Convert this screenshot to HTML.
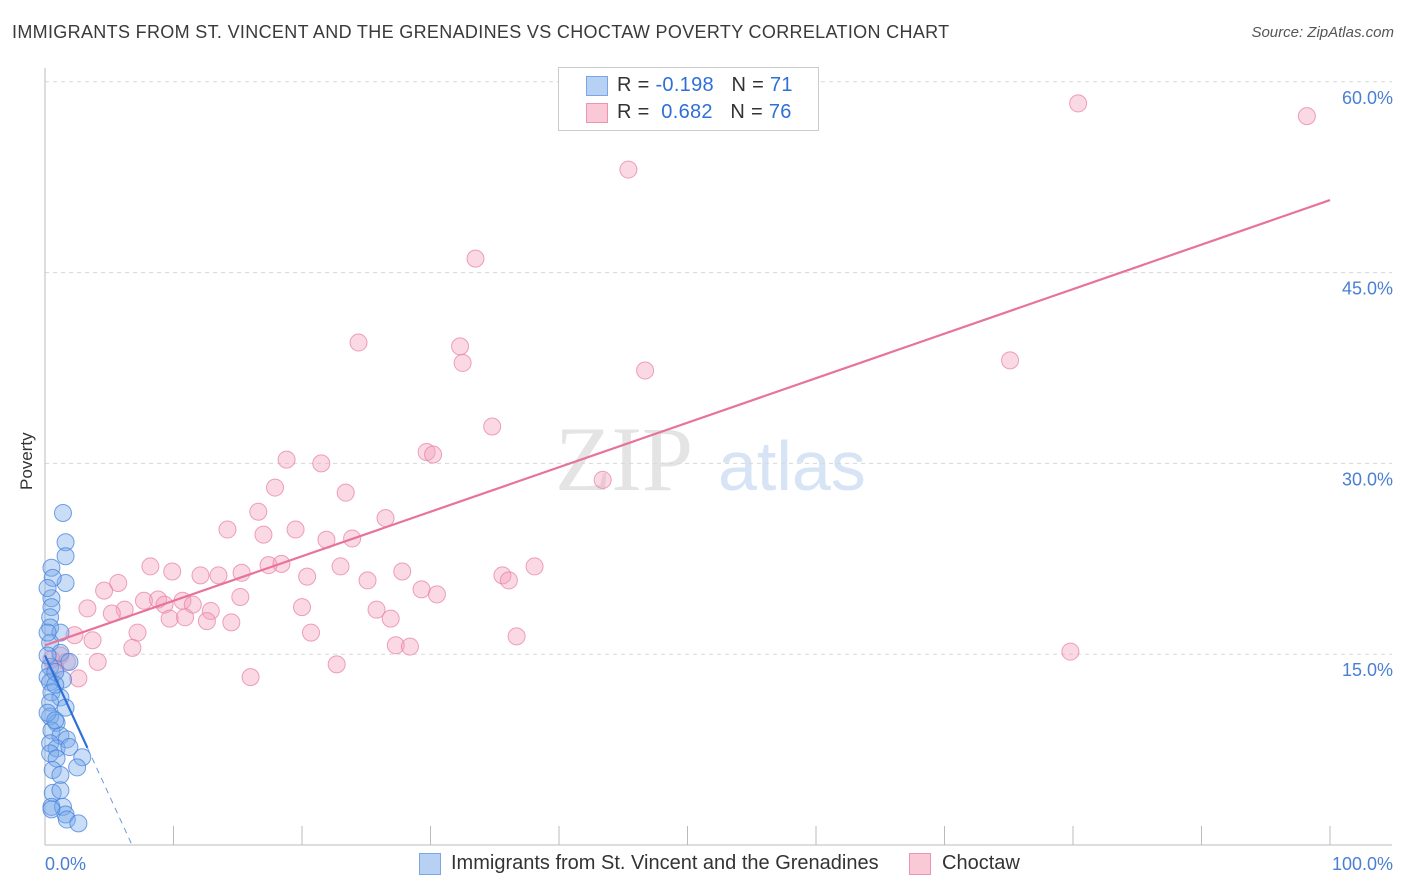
<!DOCTYPE html>
<html><head><meta charset="utf-8"><style>
body{margin:0;background:#fff;font-family:"Liberation Sans",sans-serif;}
#wrap{position:relative;width:1406px;height:892px;overflow:hidden;}
.t{position:absolute;white-space:nowrap;}
</style></head><body>
<div id="wrap">
<div class="t" style="left:12px;top:22px;font-size:18px;letter-spacing:0.33px;color:#3a3a3a;">IMMIGRANTS FROM ST. VINCENT AND THE GRENADINES VS CHOCTAW POVERTY CORRELATION CHART</div>
<div class="t" style="right:12px;top:24px;font-size:15px;color:#555;font-style:italic;">Source: ZipAtlas.com</div>
<div class="t" style="font-size:17px;color:#333;transform:rotate(-90deg);transform-origin:left top;top:490px;left:17px;">Poverty</div>
<svg id="svg" width="1406" height="892" style="position:absolute;left:0;top:0;"></svg>
</div>
<script>
const pinkX=[80.4,98.2,45.4,33.5,24.4,32.3,32.5,46.7,75.1,34.8,29.7,30.2,18.8,21.5,43.4,17.9,23.4,16.6,26.5,14.2,19.5,17.0,21.9,23.9,8.2,9.9,12.1,13.5,15.3,17.4,18.4,23.0,27.8,35.6,36.1,38.1,20.4,25.1,29.3,30.5,4.6,5.7,15.2,7.7,8.8,10.7,3.3,6.2,9.3,11.5,12.9,20.0,25.8,5.2,9.7,10.9,12.6,14.5,26.9,7.2,20.7,36.7,3.7,2.3,6.8,27.3,28.4,79.8,4.1,22.7,16.0,2.6,1.2,1.7,0.8,0.5];
const pinkY=[58.3,57.3,53.1,46.1,39.5,39.2,37.9,37.3,38.1,32.9,30.9,30.7,30.3,30.0,28.7,28.1,27.7,26.2,25.7,24.8,24.8,24.4,24.0,24.1,21.9,21.5,21.2,21.2,21.4,22.0,22.1,21.9,21.5,21.2,20.8,21.9,21.1,20.8,20.1,19.7,20.0,20.6,19.5,19.2,19.3,19.2,18.6,18.5,18.9,18.9,18.4,18.7,18.5,18.2,17.8,17.9,17.6,17.5,17.8,16.7,16.7,16.4,16.1,16.5,15.5,15.7,15.6,15.2,14.4,14.2,13.2,13.1,14.9,14.4,13.9,14.6];
const blueX=[1.4,1.6,1.6,1.6,0.5,0.6,0.5,0.5,0.4,0.4,1.2,0.4,1.2,1.9,0.4,0.2,0.4,1.4,0.5,1.2,0.4,1.6,0.4,0.9,0.5,1.2,1.7,0.4,0.9,1.9,0.4,0.9,2.9,2.5,0.6,1.2,0.6,1.2,0.5,1.4,1.6,1.7,2.6,0.5,0.2,0.2,0.2,0.8,0.8,0.2,0.8];
const blueY=[26.1,23.8,22.7,20.6,21.8,21.0,19.4,18.7,17.9,17.1,16.7,15.9,15.1,14.4,14.0,13.2,12.8,13.0,12.0,11.6,11.2,10.8,10.1,9.6,9.0,8.6,8.3,8.0,7.6,7.7,7.2,6.8,6.9,6.1,5.9,5.5,4.1,4.3,3.0,3.0,2.4,2.0,1.7,2.8,20.2,16.7,14.9,13.6,12.6,10.4,9.8];
const yTicks=[15,30,45,60];
const pinkTrend=[15.7,50.7];
const blueTrend=[14.9,-2.2];
const X0=45,X1=1330,Y0=845,YS=12.72;
const sx=v=>X0+(X1-X0)*v/100, sy=v=>Y0-v*YS;
const svg=document.getElementById('svg');
const NS='http://www.w3.org/2000/svg';
function mk(tag,at){const e=document.createElementNS(NS,tag);for(const k in at)e.setAttribute(k,at[k]);svg.appendChild(e);return e;}
let w=mk('text',{x:555,y:490,'font-size':92,fill:'#e4e4e4','font-family':'Liberation Serif,serif'});w.textContent='ZIP';


w=mk('text',{x:718,y:490,'font-size':70,fill:'#d6e4f5','font-family':'Liberation Sans,sans-serif'});w.textContent='atlas';


yTicks.forEach(v=>{
 let g=mk('line',{x1:X0,x2:1392,y1:sy(v),y2:sy(v),stroke:'#d8d8d8','stroke-dasharray':'4 4'});
 
 
 let t=mk('text',{x:1393,y:sy(v)+22,'text-anchor':'end','font-size':18,fill:'#4a7fd4','font-family':'Liberation Sans,sans-serif'});t.textContent=v.toFixed(1)+'%';
 
 
});
let a=mk('line',{x1:X0,x2:X0,y1:68,y2:Y0,stroke:'#bbb'});


a=mk('line',{x1:X0,x2:1392,y1:Y0,y2:Y0,stroke:'#bbb'});


for(let i=0;i<=10;i++){let tk=mk('line',{x1:sx(i*10),x2:sx(i*10),y1:Y0,y2:826,stroke:'#bbb'});
 
 }
[['0.0%',45,'start'],['100.0%',1393,'end']].forEach(([s,x,an])=>{let t=mk('text',{x:x,y:870,'text-anchor':an,'font-size':18,fill:'#4a7fd4','font-family':'Liberation Sans,sans-serif'});t.textContent=s;
 
 });
pinkX.forEach((x,i)=>{let c=mk('circle',{cx:sx(x),cy:sy(pinkY[i]),r:8.5,fill:'rgba(244,160,188,0.4)',stroke:'rgba(232,130,165,0.75)','stroke-width':1});
 
 });
blueX.forEach((x,i)=>{let c=mk('circle',{cx:sx(x),cy:sy(blueY[i]),r:8.5,fill:'rgba(120,170,235,0.4)',stroke:'rgba(70,130,220,0.75)','stroke-width':1});
 
 });
let l=mk('line',{x1:sx(0),y1:sy(pinkTrend[0]),x2:sx(100),y2:sy(pinkTrend[1]),stroke:'#e8739a','stroke-width':2.2});


const bEnd=-blueTrend[0]/blueTrend[1];
l=mk('line',{x1:sx(0),y1:sy(blueTrend[0]),x2:sx(3.3),y2:sy(blueTrend[0]+blueTrend[1]*3.3),stroke:'#2f6fd6','stroke-width':2.2});


l=mk('line',{x1:sx(3.3),y1:sy(blueTrend[0]+blueTrend[1]*3.3),x2:sx(bEnd),y2:sy(0),stroke:'#6c9ae0','stroke-width':1,'stroke-dasharray':'6 5'});


</script>
<div class="t" style="left:558px;top:67px;width:259px;height:62px;border:1px solid #ccc;background:#fff;">
 <div class="t" style="left:27px;top:8px;width:20px;height:18px;background:#b7d1f5;border:1px solid #7aa6e6;"></div>
 <div class="t" style="left:58px;top:6px;font-size:20px;letter-spacing:0.3px;color:#333;">R = <span style="color:#2f6fd6">-0.198</span>&nbsp;&nbsp;&nbsp;N = <span style="color:#2f6fd6">71</span></div>
 <div class="t" style="left:27px;top:35px;width:20px;height:18px;background:#f9c9d8;border:1px solid #eb95b2;"></div>
 <div class="t" style="left:58px;top:33px;font-size:20px;letter-spacing:0.3px;color:#333;">R = &nbsp;<span style="color:#2f6fd6">0.682</span>&nbsp;&nbsp;&nbsp;N = <span style="color:#2f6fd6">76</span></div>
</div>
<div class="t" style="left:419px;top:853px;width:20px;height:20px;background:#b7d1f5;border:1px solid #7aa6e6;"></div>
<div class="t" style="left:451px;top:852px;font-size:20px;color:#333;">Immigrants from St. Vincent and the Grenadines</div>
<div class="t" style="left:909px;top:853px;width:20px;height:20px;background:#f9c9d8;border:1px solid #eb95b2;"></div>
<div class="t" style="left:942px;top:852px;font-size:20px;color:#333;">Choctaw</div>
</body></html>
